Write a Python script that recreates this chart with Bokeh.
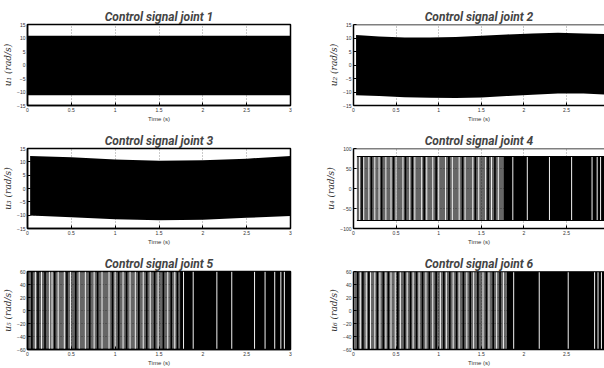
from bokeh.plotting import figure
from bokeh.layouts import column, row
from bokeh.models import FixedTicker, Span, Range1d
from bokeh.embed import file_html
from bokeh.resources import INLINE

# ---------------- data ----------------
titles = ["Control signal joint 1", "Control signal joint 2", "Control signal joint 3",
          "Control signal joint 4", "Control signal joint 5", "Control signal joint 6"]
ylabels = ["u\u2081 (rad/s)", "u\u2082 (rad/s)", "u\u2083 (rad/s)",
           "u\u2084 (rad/s)", "u\u2085 (rad/s)", "u\u2086 (rad/s)"]
x_ticks = [0, 0.5, 1, 1.5, 2, 2.5, 3]
x_tick_labels = ["0", "0.5", "1", "1.5", "2", "2.5", "3"]
y_ticks_small = [-15, -10, -5, 0, 5, 10, 15]
y_ticks_j4 = [-100, -50, 0, 50, 100]
y_ticks_j56 = [-60, -40, -20, 0, 20, 40, 60]

# envelopes of the fast oscillation (joints 1-3)
t_j1 = [0.0, 0.5, 1.0, 1.5, 2.0, 2.5, 3.0]
up_j1 = [10.8, 10.8, 10.8, 10.8, 10.8, 10.8, 10.8]
lo_j1 = [-11.2, -11.2, -11.2, -11.2, -11.2, -11.2, -11.2]

t_j2 = [0.03, 0.3, 0.6, 0.9, 1.2, 1.5, 1.8, 2.1, 2.4, 2.7, 3.0]
up_j2 = [11.1, 10.6, 10.2, 10.2, 10.4, 10.8, 11.3, 11.7, 11.9, 11.7, 11.4]
lo_j2 = [-11.2, -11.5, -11.9, -12.1, -12.2, -12.0, -11.5, -11.0, -10.6, -10.6, -11.0]

t_j3 = [0.03, 0.5, 1.0, 1.5, 2.0, 2.5, 3.0]
up_j3 = [12.2, 11.7, 10.9, 10.4, 10.6, 11.2, 12.2]
lo_j3 = [-10.1, -10.8, -11.5, -11.9, -11.7, -11.0, -10.3]

# bang-bang signals (joints 4-6): amplitude, start, end of sparse-switching phase
amp_j4, amp_j5, amp_j6 = 80, 60, 60
start_j4, start_j5, start_j6 = 0.04, 0.0, 0.01
dense_j4, dense_j5, dense_j6 = 1.76, 1.74, 1.80
end_t = 3.0

white_j4 = [0.07, 0.12, 0.18, 0.25, 0.30, 0.38, 0.44, 0.50, 0.58, 0.66, 0.72, 0.80, 0.86,
            0.93, 1.00, 1.08, 1.16, 1.24, 1.31, 1.40, 1.47, 1.55, 1.62, 1.70, 1.87, 2.04,
            2.30, 2.56, 2.80, 2.86, 2.90]
dark_j4 = [0.10, 0.21, 0.33, 0.47, 0.61, 0.69, 0.83, 0.97, 1.12, 1.28, 1.43, 1.58, 1.66]

white_j5 = [0.09, 0.16, 0.25, 0.28, 0.35, 0.42, 0.49, 0.59, 0.66, 0.76, 0.85, 0.93, 1.00,
            1.09, 1.17, 1.23, 1.32, 1.40, 1.49, 1.60, 1.68, 1.78, 1.89, 2.16, 2.33, 2.59,
            2.71, 2.82, 2.89, 2.93]
dark_j5 = [0.05, 0.12, 0.20, 0.31, 0.45, 0.55, 0.71, 0.80, 0.97, 1.04, 1.13, 1.27, 1.36,
           1.45, 1.55, 1.64, 1.71]

white_j6 = [0.08, 0.15, 0.20, 0.25, 0.31, 0.38, 0.44, 0.49, 0.55, 0.63, 0.70, 0.77, 0.85,
            0.93, 1.02, 1.09, 1.17, 1.24, 1.33, 1.41, 1.52, 1.59, 1.68, 1.76, 1.88, 2.18,
            2.52, 2.83, 2.87, 2.91]
dark_j6 = [0.05, 0.11, 0.18, 0.28, 0.35, 0.41, 0.52, 0.60, 0.67, 0.74, 0.81, 0.89, 0.97,
           1.06, 1.13, 1.21, 1.29, 1.37, 1.46, 1.56, 1.64, 1.72]

# ---------------- layout ----------------
row_heights = [124, 123, 121]
row_top = [24, 24, 24]
row_bottom = [18, 18, 17]


def make_fig(idx, y_lim, y_ticks):
    r = idx // 2
    right = idx % 2 == 1
    if right:
        w, bl, br, xend = 304, 53, 0, 2.946
    else:
        w, bl, br, xend = 300, 27, 10, 3.0
    p = figure(width=w, height=row_heights[r], output_backend="svg", toolbar_location=None,
               x_range=Range1d(0, xend), y_range=Range1d(-y_lim, y_lim),
               min_border_left=bl, min_border_right=br,
               min_border_top=row_top[r], min_border_bottom=row_bottom[r])
    p.title.text = titles[idx]
    p.title.align = "center"
    p.title.text_font = "Roboto"
    p.title.text_font_style = "bold italic"
    p.title.text_font_size = "12px"
    p.title.standoff = 1
    p.title.offset = 0

    p.xaxis.ticker = FixedTicker(ticks=x_ticks)
    p.xaxis.major_label_overrides = dict(zip(x_ticks, x_tick_labels))
    p.xaxis.axis_label = "Time (s)"
    p.yaxis.ticker = FixedTicker(ticks=y_ticks)
    p.yaxis.axis_label = ylabels[idx]
    for ax in (p.xaxis, p.yaxis):
        ax.major_label_text_font_size = "5px"
        ax.major_label_text_color = "#333333"
        ax.major_label_standoff = 2
        ax.major_tick_in = 3
        ax.major_tick_out = 0
        ax.minor_tick_line_color = None
        ax.axis_line_width = 1.5
        ax.axis_label_standoff = 1
    p.xaxis.axis_label_text_font_size = "6px"
    p.xaxis.axis_label_text_font_style = "normal"
    p.xaxis.axis_label_text_color = "#333333"
    p.yaxis.axis_label_text_font = "DejaVu Serif"
    p.yaxis.axis_label_text_font_style = "italic"
    p.yaxis.axis_label_text_font_size = "9px"
    p.yaxis.axis_label_text_color = "#333333"

    p.grid.grid_line_color = "black"
    p.grid.grid_line_alpha = 0.6
    p.grid.grid_line_dash = "1 2"
    p.grid.grid_line_width = 0.7

    if right:
        p.outline_line_color = None
        p.add_layout(Span(location=y_lim, dimension="width", line_color="black", line_width=1.5))
    else:
        p.outline_line_color = "black"
        p.outline_line_width = 1.5
        p.outline_line_alpha = 1.0
    return p


figs = []

# joints 1-3: envelope of fast oscillation
for i, (t, up, lo) in enumerate([(t_j1, up_j1, lo_j1), (t_j2, up_j2, lo_j2), (t_j3, up_j3, lo_j3)]):
    p = make_fig(i, 15, y_ticks_small)
    p.varea(x=t, y1=lo, y2=up, fill_color="black")
    figs.append(p)

# joints 4-6: switching signals
bang = [(amp_j4, start_j4, dense_j4, white_j4, dark_j4, 100, y_ticks_j4),
        (amp_j5, start_j5, dense_j5, white_j5, dark_j5, 60, y_ticks_j56),
        (amp_j6, start_j6, dense_j6, white_j6, dark_j6, 60, y_ticks_j56)]
for k, (amp, t0, td, wl, dl, ylim, yt) in enumerate(bang):
    p = make_fig(3 + k, ylim, yt)
    p.quad(left=[t0, td], right=[td, end_t], bottom=[-amp, -amp], top=[amp, amp],
           fill_color="black", fill_alpha=[0.6, 1.0], line_color=None)
    p.segment(x0=dl, x1=dl, y0=[-amp] * len(dl), y1=[amp] * len(dl),
              line_color="black", line_width=1.6)
    p.segment(x0=wl, x1=wl, y0=[-amp] * len(wl), y1=[amp] * len(wl),
              line_color="#f2f2f2", line_width=1.0)
    p.segment(x0=[t0, t0], x1=[end_t, end_t], y0=[-amp, amp], y1=[-amp, amp],
              line_color="black", line_width=1.2)
    figs.append(p)

layout = column(row(figs[0], figs[1]), row(figs[2], figs[3]), row(figs[4], figs[5]))

open("out.html", "w").write(file_html(layout, INLINE))
